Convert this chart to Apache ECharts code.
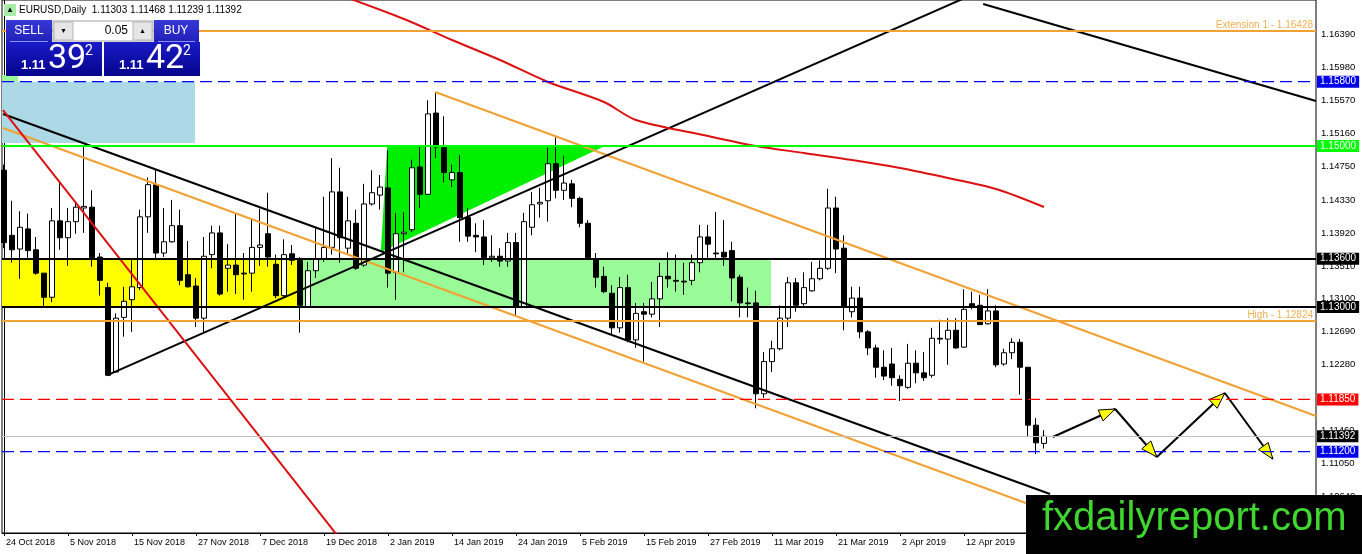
<!DOCTYPE html>
<html>
<head>
<meta charset="utf-8">
<script src="https://cdn.jsdelivr.net/npm/echarts@6/dist/echarts.min.js"></script>
<style>
html,body{margin:0;padding:0;background:#fff;}
#chart{width:1362px;height:554px;}
</style>
</head>
<body>
<div id="chart"></div>
<script>
// EURUSD daily bars, 24 Oct 2018 onwards
var opens = [1.1470,1.1389,1.1372,1.1397,1.1371,1.1342,1.1312,1.1407,1.1386,1.1406,
    1.1423,1.1424,1.1362,1.1324,1.1219,1.1287,1.1309,1.1324,1.1412,1.1452,
    1.1367,1.1381,1.1401,1.1340,1.1326,1.1286,1.1365,1.1392,1.1348,1.1352,
    1.1342,1.1342,1.1374,1.1391,1.1353,1.1314,1.1366,1.1358,1.1300,1.1345,
    1.1360,1.1374,1.1443,1.1373,1.1404,1.1352,1.1428,1.1439,1.1448,1.1343,
    1.1391,1.1396,1.1474,1.1440,1.1541,1.1498,1.1458,1.1467,1.1411,1.1389,
    1.1387,1.1361,1.1363,1.1357,1.1380,1.1300,1.1399,1.1428,1.1432,1.1478,
    1.1445,1.1453,1.1435,1.1404,1.1360,1.1338,1.1317,1.1274,1.1324,1.1259,
    1.1294,1.1291,1.1310,1.1338,1.1333,1.1332,1.1333,1.1355,1.1387,1.1367,
    1.1368,1.1370,1.1337,1.1305,1.1305,1.1192,1.1232,1.1248,1.1286,1.1330,
    1.1304,1.1320,1.1335,1.1348,1.1423,1.1373,1.1294,1.1311,1.1269,1.1249,
    1.1225,1.1229,1.1210,1.1200,1.1230,1.1218,1.1215,1.1261,1.1260,1.1271,
    1.1250,1.1304,1.1302,1.1279,1.1295,1.1229,1.1243,1.1256,1.1225,1.1153,
    1.11303];
var highs = [1.1477,1.1432,1.1419,1.1416,1.1387,1.1342,1.1423,1.1455,1.1423,1.1430,
    1.1499,1.1445,1.1367,1.1330,1.1292,1.1325,1.1358,1.1421,1.1461,1.1470,
    1.1423,1.1433,1.1421,1.1382,1.1336,1.1387,1.1401,1.1401,1.1378,1.1416,
    1.1367,1.1408,1.1422,1.1442,1.1365,1.1384,1.1377,1.1362,1.1356,1.1398,
    1.1437,1.1485,1.1473,1.1437,1.1421,1.1453,1.1470,1.1464,1.1495,1.1417,
    1.1418,1.1483,1.1499,1.1557,1.1567,1.1537,1.1477,1.1489,1.1423,1.1404,
    1.1408,1.1389,1.1373,1.1392,1.1392,1.1417,1.1443,1.1448,1.1498,1.1511,
    1.1488,1.1458,1.1437,1.1408,1.1367,1.1350,1.1327,1.1337,1.1340,1.1305,
    1.1305,1.1331,1.1355,1.1368,1.1365,1.1355,1.1365,1.1402,1.1402,1.1418,
    1.1408,1.1381,1.1340,1.1324,1.1320,1.1244,1.1258,1.1302,1.1337,1.1336,
    1.1343,1.1356,1.1358,1.1447,1.1437,1.1389,1.1325,1.1325,1.1271,1.1253,
    1.1246,1.1249,1.1215,1.1254,1.1246,1.1244,1.1274,1.1284,1.1286,1.1286,
    1.1322,1.1319,1.1315,1.1322,1.1302,1.1248,1.1261,1.1260,1.1225,1.1162,
    1.11468];
var lows = [1.1373,1.1355,1.1335,1.1361,1.1340,1.1301,1.1306,1.1371,1.1351,1.1391,
    1.1392,1.1350,1.1314,1.1214,1.1219,1.1263,1.1269,1.1321,1.1392,1.1358,
    1.1362,1.1380,1.1327,1.1324,1.1275,1.1268,1.1348,1.1314,1.1319,1.1316,
    1.1309,1.1319,1.1351,1.1350,1.1311,1.1312,1.1352,1.1268,1.1299,1.1336,
    1.1356,1.1365,1.1355,1.1365,1.1346,1.1350,1.1426,1.1421,1.1324,1.1309,
    1.1343,1.1393,1.1423,1.1439,1.1485,1.1455,1.1449,1.1381,1.1381,1.1368,
    1.1352,1.1356,1.1350,1.1350,1.1290,1.1299,1.1389,1.1411,1.1406,1.1435,
    1.1433,1.1424,1.1399,1.1361,1.1324,1.1317,1.1265,1.1268,1.1256,1.1249,
    1.1232,1.1287,1.1275,1.1324,1.1319,1.1315,1.1327,1.1343,1.1361,1.1361,
    1.1351,1.1307,1.1287,1.1287,1.1174,1.1187,1.1219,1.1246,1.1275,1.1294,
    1.1299,1.1319,1.1333,1.1346,1.1342,1.1271,1.1287,1.1261,1.1240,1.1212,
    1.1209,1.1202,1.1183,1.1198,1.1205,1.1208,1.1212,1.1254,1.1228,1.1248,
    1.1249,1.1297,1.1278,1.1278,1.1225,1.1227,1.1235,1.1191,1.1138,1.1117,
    1.11239];
var closes = [1.1380,1.1371,1.1399,1.1370,1.1342,1.1312,1.1407,1.1386,1.1406,1.1424,
    1.1425,1.1361,1.1333,1.1215,1.1286,1.1307,1.1325,1.1412,1.1452,1.1367,
    1.1381,1.1401,1.1333,1.1325,1.1286,1.1363,1.1392,1.1316,1.1352,1.1340,
    1.1341,1.1374,1.1377,1.1362,1.1314,1.1365,1.1358,1.1302,1.1345,1.1360,
    1.1374,1.1443,1.1386,1.1407,1.1348,1.1428,1.1442,1.1449,1.1342,1.1391,
    1.1393,1.1473,1.1440,1.1540,1.1499,1.1467,1.1467,1.1411,1.1388,1.1387,
    1.1361,1.1363,1.1357,1.1380,1.1300,1.1406,1.1427,1.1430,1.1478,1.1445,
    1.1454,1.1435,1.1404,1.1361,1.1337,1.1319,1.1274,1.1324,1.1259,1.1292,
    1.1291,1.1310,1.1338,1.1335,1.1332,1.1331,1.1355,1.1387,1.1378,1.1366,
    1.1362,1.1336,1.1305,1.1304,1.1192,1.1232,1.1248,1.1286,1.1330,1.1302,
    1.1324,1.1335,1.1348,1.1423,1.1372,1.1300,1.1311,1.1269,1.1249,1.1225,
    1.1214,1.1212,1.1202,1.1230,1.1218,1.1212,1.1261,1.1260,1.1271,1.1249,
    1.1297,1.1300,1.1278,1.1295,1.1228,1.1243,1.1256,1.1225,1.1153,1.1131,
    1.11392];
var askPrice = 1.11422;
var lotSize = '0.05';

// axis ticks
var dateTicks = [0, 8, 16, 24, 32, 40, 48, 56, 64, 72, 80, 88, 96, 104, 112, 120];
var dateLabels = ['24 Oct 2018', '5 Nov 2018', '15 Nov 2018', '27 Nov 2018', '7 Dec 2018',
    '19 Dec 2018', '2 Jan 2019', '14 Jan 2019', '24 Jan 2019', '5 Feb 2019', '15 Feb 2019',
    '27 Feb 2019', '11 Mar 2019', '21 Mar 2019', '2 Apr 2019', '12 Apr 2019'];
var priceTicks = [1.1064, 1.1105, 1.1146, 1.1187, 1.1228, 1.1269, 1.1310, 1.1351,
    1.1392, 1.1433, 1.1475, 1.1516, 1.1557, 1.1598, 1.1639];

// horizontal levels
var extensionLevel = 1.16428;
var highLevel = 1.12824;
var tagLevels = [1.158, 1.15, 1.136, 1.13, 1.1185, 1.112];

// trend lines: [bar index, price]
var blackFall = [[-0.125, 1.15399], [130.75, 1.10674]];
var orangeLow = [[-0.125, 1.15225], [130.1, 1.10475]];
var orangeHigh = [[53.9, 1.15672], [164, 1.11644]];
var blackRise = [[13.0, 1.12154], [124.5, 1.17034]];
var blackTop = [[122.4, 1.16766], [164, 1.15560]];
var redFall = [[-0.125, 1.15448], [42.6, 1.1004]];

// moving average (red curve)
var maIdx = [42, 50, 56, 62, 68, 75, 79, 88, 94, 100, 106, 112, 118, 124, 130];
var maVals = [1.16878, 1.16580, 1.16319, 1.16070, 1.15797, 1.15548, 1.15324, 1.15125,
    1.15001, 1.14914, 1.14827, 1.14727, 1.14603, 1.14466, 1.14242];

// zones: [from bar, to bar, low, high]
var zoneRects = [[-0.25, 23.875, 1.15038, 1.158], [-0.25, 1.75, 1.158, 1.15883],
    [-0.25, 37.25, 1.130, 1.136], [37.25, 95.875, 1.130, 1.136]];
var zoneColors = ['#add8e6', '#98fb98', '#ffff00', '#98fb98'];
var triangle = [[47.1, 1.13683], [47.9, 1.15], [75.1, 1.15]];

// projected path
var projX = [131.1, 138.9, 144.1, 152.6, 158.6];
var projY = [1.11383, 1.11731, 1.11134, 1.11930, 1.11109];

var last = closes.length - 1;
var X_MIN = -0.25, X_MAX = 164;
var FONT = '"Liberation Sans", Arial, sans-serif';
var ORANGE = '#f2a133';

var candles = opens.map(function (o, i) {
    return [i, o, closes[i], lows[i], highs[i]];
});

function trend(pts, color, width, dash, z) {
    return {
        type: 'line', data: pts, symbol: 'none', showSymbol: false, z: z || 3, silent: true,
        clip: true, lineStyle: { color: color, width: width || 2, type: dash || 'solid' }
    };
}

var tagColors = ['#0000ee', '#00ff00', '#000000', '#000000', '#ff0000', '#0000ee'];
var tagDashed = [true, false, false, false, true, true];
var dashColors = ['#0000ff', null, null, null, '#ff0000', '#0000ff'];

// dashed levels drawn as plain line series
var dashedSeries = [];
tagLevels.forEach(function (v, i) {
    if (tagDashed[i]) {
        dashedSeries.push(trend([[X_MIN, v], [X_MAX, v]], dashColors[i], 1.3, [12, 6], 5));
    }
});

var levelLines = tagLevels.map(function (v, i) {
    return {
        yAxis: v,
        lineStyle: tagDashed[i]
            ? { color: 'rgba(0,0,0,0)', width: 1, type: 'solid' }
            : { color: tagColors[i], width: 2, type: 'solid' },
        label: { backgroundColor: tagColors[i], color: '#fff' }
    };
});
levelLines.push({
    yAxis: closes[last],
    lineStyle: { color: '#c0c0c0', width: 1, type: 'solid' },
    label: { backgroundColor: '#000' }
});
levelLines.push({
    yAxis: extensionLevel, name: 'Extension 1',
    lineStyle: { color: ORANGE, width: 2, type: 'solid' },
    label: { position: 'insideEndTop', backgroundColor: 'transparent', color: '#f0b050', padding: [0, 2, 0, 0], distance: 1 }
});
levelLines.push({
    yAxis: highLevel, name: 'High',
    lineStyle: { color: ORANGE, width: 2, type: 'solid' },
    label: { position: 'insideEndTop', backgroundColor: 'transparent', color: '#f0b050', padding: [0, 2, 0, 0], distance: 1 }
});

function priceParts(v) {
    var s = v.toFixed(5);
    return [s.slice(0, 4), s.slice(4, 6), s.slice(6)];
}
var bidP = priceParts(closes[last]);
var askP = priceParts(askPrice);
var titleText = 'EURUSD,Daily  ' + [opens[last], highs[last], lows[last], closes[last]]
    .map(function (v) { return v.toFixed(5); }).join(' ');

function btnFill(top, bottom) {
    return new echarts.graphic.LinearGradient(0, 0, 0, 1, [
        { offset: 0, color: top }, { offset: 1, color: bottom }]);
}

function pricePanel(x0, parts) {
    return [
        { type: 'rect', shape: { x: x0, y: 42, width: 96, height: 34 }, style: { fill: btnFill('#1a1ac8', '#05058c') }, z: 100 },
        { type: 'text', x: x0 + 15, y: 65, style: { text: parts[0], font: 'bold 13px ' + FONT, fill: '#fff', verticalAlign: 'middle' }, z: 101 },
        { type: 'text', x: x0 + 42, y: 59, style: { text: parts[1], font: '34px Roboto, ' + FONT, fill: '#fff', verticalAlign: 'middle' }, z: 101 },
        { type: 'text', x: x0 + 79, y: 51, style: { text: parts[2], font: '14px Roboto, ' + FONT, fill: '#fff', verticalAlign: 'middle' }, z: 101 }
    ];
}

var panel = [
    { type: 'rect', shape: { x: 4, y: 4, width: 12, height: 12 }, style: { fill: '#a8eca8' }, z: 100 },
    { type: 'text', x: 10, y: 10, style: { text: '▲', font: '8px ' + FONT, fill: '#000', align: 'center', verticalAlign: 'middle' }, z: 101 },
    { type: 'text', x: 19, y: 10, style: { text: titleText, font: '10px ' + FONT, fill: '#000', verticalAlign: 'middle' }, z: 101 },
    // sell button
    { type: 'rect', shape: { x: 6, y: 20, width: 46, height: 22 }, style: { fill: btnFill('#3838d8', '#2020b8') }, z: 100 },
    { type: 'text', x: 29, y: 31, style: { text: 'SELL', font: '12px ' + FONT, fill: '#fff', align: 'center', verticalAlign: 'middle' }, z: 101 },
    // lot spinner
    { type: 'rect', shape: { x: 53, y: 21, width: 100, height: 20 }, style: { fill: '#fff', stroke: '#a0a0a0', lineWidth: 1 }, z: 100 },
    { type: 'rect', shape: { x: 54, y: 22, width: 19, height: 18 }, style: { fill: '#e6e6e6', stroke: '#b8b8b8', lineWidth: 1 }, z: 101 },
    { type: 'rect', shape: { x: 133, y: 22, width: 19, height: 18 }, style: { fill: '#e6e6e6', stroke: '#b8b8b8', lineWidth: 1 }, z: 101 },
    { type: 'text', x: 63.5, y: 31, style: { text: '▼', font: '7px ' + FONT, fill: '#000', align: 'center', verticalAlign: 'middle' }, z: 102 },
    { type: 'text', x: 142.5, y: 31, style: { text: '▲', font: '7px ' + FONT, fill: '#000', align: 'center', verticalAlign: 'middle' }, z: 102 },
    { type: 'text', x: 128, y: 31, style: { text: lotSize, font: '12px ' + FONT, fill: '#000', align: 'right', verticalAlign: 'middle' }, z: 102 },
    // buy button
    { type: 'rect', shape: { x: 154, y: 20, width: 45, height: 22 }, style: { fill: btnFill('#3838d8', '#2020b8') }, z: 100 },
    { type: 'text', x: 176, y: 31, style: { text: 'BUY', font: '12px ' + FONT, fill: '#fff', align: 'center', verticalAlign: 'middle' }, z: 101 },
    // watermark
    { type: 'rect', shape: { x: 1026, y: 495, width: 336, height: 59 }, style: { fill: '#000' }, z: 100 },
    { type: 'text', x: 1042, y: 519, style: { text: 'fxdailyreport.com', font: '40px ' + FONT, fill: '#3fd62f', verticalAlign: 'middle' }, z: 101 }
].concat(pricePanel(6, bidP), pricePanel(104, askP), [
    { type: 'line', shape: { x1: 10, y1: 41.5, x2: 48, y2: 41.5 }, style: { stroke: '#9090ff', lineWidth: 1 }, z: 102 },
    { type: 'line', shape: { x1: 158, y1: 41.5, x2: 195, y2: 41.5 }, style: { stroke: '#9090ff', lineWidth: 1 }, z: 102 }
]);

var chart = echarts.init(document.getElementById('chart'), null, { renderer: 'canvas' });
chart.setOption({
    animation: false,
    backgroundColor: '#fff',
    grid: { left: 2, top: 0, width: 1314, height: 533, show: true, borderColor: '#000', borderWidth: 1, backgroundColor: 'transparent' },
    xAxis: {
        type: 'value', min: X_MIN, max: X_MAX,
        axisLine: { show: true, lineStyle: { color: '#000', width: 1 } },
        axisTick: { show: true, length: 3, customValues: dateTicks, lineStyle: { color: '#000' } },
        axisLabel: {
            customValues: dateTicks, align: 'left', margin: 5, padding: [0, 0, 0, 2],
            fontFamily: FONT, fontSize: 9, color: '#000',
            formatter: function (v) { return dateLabels[dateTicks.indexOf(Math.round(v))] || ''; }
        },
        splitLine: { show: false }
    },
    yAxis: {
        type: 'value', position: 'right', min: 1.10189, max: 1.16816,
        axisLine: { show: true, lineStyle: { color: '#000', width: 1 } },
        axisTick: { show: false },
        axisLabel: {
            customValues: priceTicks, margin: 5, fontFamily: FONT, fontSize: 9.5, color: '#000',
            formatter: function (v) { return v.toFixed(5); }
        },
        splitLine: { show: false }
    },
    graphic: panel,
    series: [
        {
            type: 'custom', name: 'zones', z: 1, silent: true,
            data: zoneRects,
            encode: { x: [0, 1], y: [2, 3] },
            renderItem: function (params, api) {
                var a = api.coord([api.value(0), api.value(3)]);
                var b = api.coord([api.value(1), api.value(2)]);
                return {
                    type: 'rect',
                    shape: { x: a[0], y: a[1], width: b[0] - a[0], height: b[1] - a[1] },
                    style: { fill: zoneColors[params.dataIndex] }
                };
            }
        },
        {
            type: 'custom', name: 'triangle', z: 1, silent: true,
            data: [[triangle[0][0], triangle[0][1], triangle[1][0], triangle[1][1], triangle[2][0], triangle[2][1]]],
            encode: { x: [0, 2, 4], y: [1, 3, 5] },
            renderItem: function (params, api) {
                var pts = [0, 2, 4].map(function (k) {
                    return api.coord([api.value(k), api.value(k + 1)]);
                });
                return { type: 'polygon', shape: { points: pts }, style: { fill: '#00ee00' } };
            }
        },
        {
            type: 'candlestick', name: 'EURUSD', z: 2, silent: true,
            data: candles,
            encode: { x: 0, y: [1, 2, 3, 4] },
            barWidth: 5,
            itemStyle: { color: '#fff', color0: '#000', borderColor: '#000', borderColor0: '#000', borderWidth: 1 },
            markLine: {
                silent: true, symbol: ['none', 'none'], animation: false, precision: 5,
                label: {
                    show: true, position: 'end', distance: 1, color: '#fff',
                    fontFamily: FONT, fontSize: 10, padding: [1, 3, 1, 3],
                    formatter: function (p) {
                        var t = Number(p.value).toFixed(5);
                        return p.name ? p.name + ' - ' + t : t;
                    }
                },
                data: levelLines
            }
        },
        trend(blackFall, '#000'),
        trend(orangeLow, ORANGE),
        trend(orangeHigh, ORANGE),
        trend(blackRise, '#000'),
        trend(blackTop, '#000'),
        trend(redFall, '#dd1111'),
        {
            type: 'line', name: 'MA', z: 3, silent: true, clip: true, symbol: 'none', smooth: 0.3,
            data: maIdx.map(function (x, i) { return [x, maVals[i]]; }),
            lineStyle: { color: '#dd1111', width: 2 }
        },
        {
            type: 'custom', name: 'projection', z: 4, silent: true,
            data: projX.slice(1).map(function (x, i) { return [projX[i], projY[i], x, projY[i + 1]]; }),
            encode: { x: [0, 2], y: [1, 3] },
            renderItem: function (params, api) {
                var p0 = api.coord([api.value(0), api.value(1)]);
                var p1 = api.coord([api.value(2), api.value(3)]);
                var dx = p1[0] - p0[0], dy = p1[1] - p0[1];
                var len = Math.sqrt(dx * dx + dy * dy);
                var ux = dx / len, uy = dy / len;
                var L = 16, W = 6;
                var bx = p1[0] - ux * L, by = p1[1] - uy * L;
                return {
                    type: 'group',
                    children: [
                        { type: 'line', shape: { x1: p0[0], y1: p0[1], x2: p1[0], y2: p1[1] }, style: { stroke: '#000', lineWidth: 2 } },
                        {
                            type: 'polygon',
                            shape: { points: [[p1[0], p1[1]], [bx - uy * W, by + ux * W], [bx + uy * W, by - ux * W]] },
                            style: { fill: '#ffff00', stroke: '#000', lineWidth: 1 }
                        }
                    ]
                };
            }
        }
    ].concat(dashedSeries)
});
</script>
</body>
</html>
